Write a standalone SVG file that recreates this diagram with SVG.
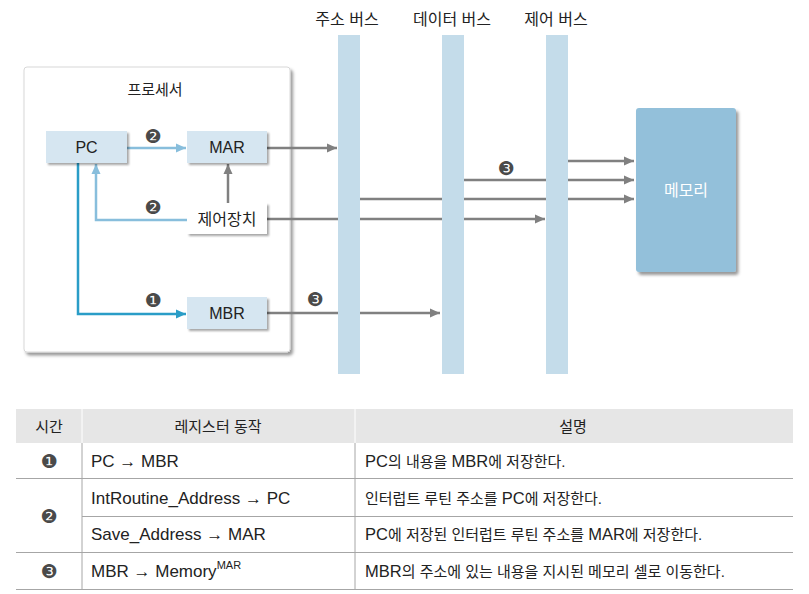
<svg xmlns="http://www.w3.org/2000/svg" width="809" height="594" viewBox="0 0 809 594">
<defs>
<filter id="sh" x="-10%" y="-10%" width="130%" height="130%">
<feDropShadow dx="2" dy="2" stdDeviation="1.2" flood-color="#000" flood-opacity="0.35"/>
</filter>
<filter id="sh2" x="-10%" y="-10%" width="130%" height="130%">
<feDropShadow dx="2.5" dy="3" stdDeviation="1.5" flood-color="#000" flood-opacity="0.4"/>
</filter>
<marker id="ag" viewBox="0 0 10 10" refX="10" refY="5" markerWidth="10" markerHeight="10" markerUnits="userSpaceOnUse" orient="auto">
<path d="M0,0.5 L10,5 L0,9.5 Z" fill="#808080"/>
</marker>
<marker id="al" viewBox="0 0 10 10" refX="10" refY="5" markerWidth="10" markerHeight="10" markerUnits="userSpaceOnUse" orient="auto">
<path d="M0,0.5 L10,5 L0,9.5 Z" fill="#88bedc"/>
</marker>
<marker id="ad" viewBox="0 0 10 10" refX="10" refY="5" markerWidth="10" markerHeight="10" markerUnits="userSpaceOnUse" orient="auto">
<path d="M0,0.5 L10,5 L0,9.5 Z" fill="#2a9dc7"/>
</marker>
</defs>
<style>
text{font-family:"Liberation Sans","Noto Sans CJK KR",sans-serif;font-size:15px;fill:#222}
.c{text-anchor:middle}
.b{font-size:16px}
.t{font-size:17px}
.lat{font-size:16.5px}
.num{font-family:"DejaVu Sans",sans-serif;font-size:19px;fill:#4a4a4a;text-anchor:middle}
.reg{fill:#d6e6f1;filter:url(#sh)}
.bus{fill:#c4dcea}
.g{stroke:#808080;stroke-width:2.5;fill:none}
.l{stroke:#88bedc;stroke-width:2.5;fill:none}
.d{stroke:#2a9dc7;stroke-width:2.5;fill:none}
.hl{stroke:#a6a6a6;stroke-width:1}
</style>

<g id="processor">
<rect x="24" y="67" width="266" height="285" rx="3" fill="#fff" stroke="#d8d8d8" stroke-width="1" filter="url(#sh2)"/>
<text class="c" x="155" y="95">프로세서</text>
</g>

<g id="connectors">
<path class="l" d="M127,148 H186" marker-end="url(#al)"/>
<path class="l" d="M187,220 H96 V164" marker-end="url(#al)"/>
<path class="d" d="M78,163 V314 H186" marker-end="url(#ad)"/>
<path class="g" d="M228,203 V164" marker-end="url(#ag)"/>
<path class="g" d="M267,148 H337" marker-end="url(#ag)"/>
<path class="g" d="M267,219 H545" marker-end="url(#ag)"/>
<path class="g" d="M267,313 H440" marker-end="url(#ag)"/>
<path class="g" d="M360,199 H634" marker-end="url(#ag)"/>
<path class="g" d="M464,180 H634" marker-end="url(#ag)"/>
<path class="g" d="M568,161 H634" marker-end="url(#ag)"/>
<text class="num" x="153" y="143">❷</text>
<text class="num" x="153" y="214">❷</text>
<text class="num" x="153" y="307">❶</text>
<text class="num" x="315" y="306">❸</text>
<text class="num" x="506" y="175">❸</text>
</g>

<g id="address-bus">
<rect class="bus" x="338" y="35" width="22" height="339"/>
<text class="c b" x="347" y="25">주소 버스</text>
</g>
<g id="data-bus">
<rect class="bus" x="442" y="35" width="22" height="339"/>
<text class="c b" x="452" y="25">데이터 버스</text>
</g>
<g id="control-bus">
<rect class="bus" x="546" y="35" width="22" height="339"/>
<text class="c b" x="556" y="25">제어 버스</text>
</g>

<g id="pc">
<rect class="reg" x="46" y="131" width="81" height="32"/>
<text class="c b" x="86.5" y="153">PC</text>
</g>
<g id="mar">
<rect class="reg" x="187" y="131" width="80" height="32"/>
<text class="c b" x="227" y="153">MAR</text>
</g>
<g id="control-unit">
<rect x="187" y="203" width="80" height="31" fill="#fff" filter="url(#sh)"/>
<text class="c b" x="227" y="224.5">제어장치</text>
</g>
<g id="mbr">
<rect class="reg" x="187" y="297" width="80" height="32"/>
<text class="c b" x="227" y="319">MBR</text>
</g>
<g id="memory">
<rect x="636" y="108" width="100" height="164" rx="3" fill="#93c0da" filter="url(#sh2)"/>
<text class="c b" x="686" y="196" style="fill:#fff">메모리</text>
</g>

<g id="table">
<rect x="16" y="409" width="777" height="34" fill="#e6e6e6"/>
<line x1="82" y1="409" x2="82" y2="443" stroke="#fff" stroke-width="1"/>
<line x1="355" y1="409" x2="355" y2="443" stroke="#fff" stroke-width="1"/>
<line class="hl" x1="82" y1="443" x2="82" y2="589"/>
<line class="hl" x1="355" y1="443" x2="355" y2="589"/>
<line class="hl" x1="16" y1="478.5" x2="793" y2="478.5"/>
<line class="hl" x1="82" y1="516.5" x2="793" y2="516.5"/>
<line class="hl" x1="16" y1="552.5" x2="793" y2="552.5"/>
<line class="hl" x1="16" y1="589.5" x2="793" y2="589.5"/>
<text class="c" x="49" y="432">시간</text>
<text class="c" x="218" y="432">레지스터 동작</text>
<text class="c" x="573" y="432">설명</text>
<text class="num" x="49" y="468">❶</text>
<text class="num" x="49" y="523">❷</text>
<text class="num" x="49" y="578">❸</text>
<text class="t" x="91" y="467">PC → MBR</text>
<text class="t" x="91" y="504">IntRoutine_Address → PC</text>
<text class="t" x="91" y="540">Save_Address → MAR</text>
<text class="t" x="91" y="577">MBR → Memory<tspan font-size="11" dy="-8">MAR</tspan></text>
<text x="365" y="467"><tspan class="lat">PC</tspan>의 내용을 <tspan class="lat">MBR</tspan>에 저장한다.</text>
<text x="365" y="504">인터럽트 루틴 주소를 <tspan class="lat">PC</tspan>에 저장한다.</text>
<text x="365" y="540"><tspan class="lat">PC</tspan>에 저장된 인터럽트 루틴 주소를 <tspan class="lat">MAR</tspan>에 저장한다.</text>
<text x="365" y="577"><tspan class="lat">MBR</tspan>의 주소에 있는 내용을 지시된 메모리 셀로 이동한다.</text>
</g>
</svg>
